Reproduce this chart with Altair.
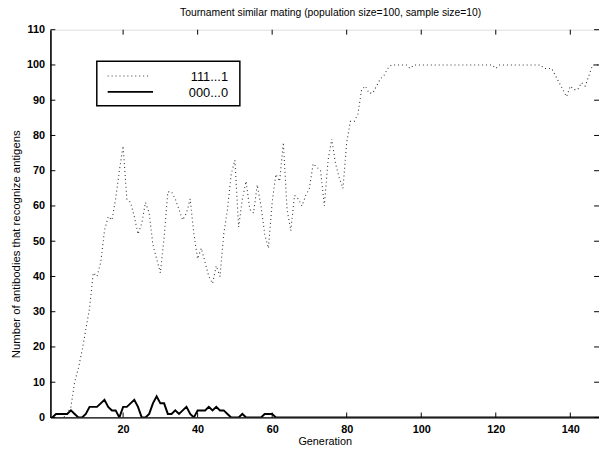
import altair as alt
import pandas as pd

# ---- data ----
generations = list(range(1, 149))
ones_series = [
    0, 0, 0, 0, 1, 3, 10, 14, 19, 25,
    31, 41, 40, 44, 53, 57, 56, 62, 70, 77,
    62, 61, 57, 52, 55, 61, 58, 49, 45, 41,
    51, 64, 64, 62, 59, 56, 58, 62, 52, 45,
    48, 44, 40, 38, 43, 40, 52, 59, 69, 73,
    54, 62, 67, 59, 58, 66, 60, 52, 48, 61,
    69, 67, 78, 59, 53, 63, 62, 60, 63, 65,
    72, 71, 70, 60, 73, 79, 72, 68, 65, 78,
    84, 84, 86, 93, 94, 92, 92, 94, 96, 97,
    99, 100, 100, 100, 100, 100, 99, 100, 100, 100,
    100, 100, 100, 100, 100, 100, 100, 100, 100, 100,
    100, 100, 100, 100, 100, 100, 100, 100, 100, 99,
    100, 100, 100, 100, 100, 100, 100, 100, 100, 100,
    100, 100, 99, 99, 99, 97, 95, 93, 91, 94,
    93, 93, 95, 94, 97, 100, 100, 100,
]
zeros_series = [
    0, 1, 1, 1, 1, 2, 1, 0, 0, 1,
    3, 3, 3, 4, 5, 3, 2, 2, 0, 3,
    3, 4, 5, 3, 0, 0, 1, 4, 6, 4,
    4, 1, 1, 2, 1, 2, 3, 1, 0, 2,
    2, 2, 3, 2, 3, 2, 2, 1, 0, 0,
    0, 1, 0, 0, 0, 0, 0, 1, 1, 1,
] + [0] * 88
series_names = ["111...1", "000...0"]
x_ticks = [20, 40, 60, 80, 100, 120, 140]
y_ticks = [0, 10, 20, 30, 40, 50, 60, 70, 80, 90, 100, 110]
title_text = "Tournament similar mating (population size=100, sample size=10)"
x_title = "Generation"
y_title = "Number of antibodies that recognize antigens"

W, H = 556, 393
FONT = "Liberation Sans"
DOT = [1, 3]

df_ones = pd.DataFrame({"gen": generations, "value": ones_series})
df_zeros = pd.DataFrame({"gen": generations, "value": zeros_series})
df_xt = pd.DataFrame({"gen": x_ticks})
df_yt = pd.DataFrame({"value": y_ticks})
df_one = pd.DataFrame({"k": [0]})

xscale = alt.Scale(domain=[0.5, 147.7], nice=False, zero=False)
yscale = alt.Scale(domain=[0, 110], nice=False)

x_axis = alt.Axis(values=x_ticks, tickSize=0, labelFontSize=11, labelFontWeight="bold",
                  labelFont=FONT, labelColor="black", labelPadding=6, labelOverlap=False,
                  domainColor="black", domainWidth=1.2, grid=False,
                  title=x_title, titleFont=FONT, titleFontSize=11, titleFontWeight="normal",
                  titleColor="black", titlePadding=1)
y_axis = alt.Axis(values=y_ticks, tickSize=0, labelFontSize=11, labelFontWeight="bold",
                  labelFont=FONT, labelColor="black", labelPadding=6, labelOverlap=False,
                  domainColor="black", domainWidth=1.6, grid=False,
                  title=y_title, titleFont=FONT, titleFontSize=11.5, titleFontWeight="normal",
                  titleColor="black", titlePadding=5, titleY=217)

X = lambda: alt.X("gen:Q", scale=xscale, axis=x_axis)
Y = lambda: alt.Y("value:Q", scale=yscale, axis=y_axis)

ones_line = alt.Chart(df_ones).mark_line(
    color="#333333", strokeWidth=1.1, strokeDash=DOT, clip=True
).encode(x=X(), y=Y())
zeros_line = alt.Chart(df_zeros).mark_line(
    color="black", strokeWidth=2, clip=True
).encode(x=X(), y=Y())

# inward tick marks (MATLAB style) on all four sides
xt_bottom = alt.Chart(df_xt).mark_rule(color="black", strokeWidth=1).encode(
    x=X(), y=alt.value(H), y2=alt.value(H - 5))
xt_top = alt.Chart(df_xt).mark_rule(color="black", strokeWidth=1).encode(
    x=X(), y=alt.value(0), y2=alt.value(5))
yt_left = alt.Chart(df_yt).mark_rule(color="black", strokeWidth=1).encode(
    y=Y(), x=alt.value(0), x2=alt.value(5))
yt_right = alt.Chart(df_yt).mark_rule(color="black", strokeWidth=1).encode(
    y=Y(), x=alt.value(W - 5), x2=alt.value(W))

# legend box
legend_box = alt.Chart(df_one).mark_rect(
    fill="white", stroke="black", strokeWidth=1.5
).encode(x=alt.value(47), x2=alt.value(192), y=alt.value(32), y2=alt.value(77))
leg_dot = alt.Chart(df_one).mark_rule(
    color="#333333", strokeWidth=1.1, strokeDash=DOT
).encode(x=alt.value(58), x2=alt.value(100), y=alt.value(47))
leg_solid = alt.Chart(df_one).mark_rule(color="black", strokeWidth=2).encode(
    x=alt.value(58), x2=alt.value(104), y=alt.value(63))
leg_text1 = alt.Chart(df_one).mark_text(
    align="right", baseline="middle", font=FONT, fontSize=13, color="black",
    text=series_names[0]
).encode(x=alt.value(180), y=alt.value(48))
leg_text2 = alt.Chart(df_one).mark_text(
    align="right", baseline="middle", font=FONT, fontSize=13, color="black",
    text=series_names[1]
).encode(x=alt.value(180), y=alt.value(64))

chart = alt.layer(
    ones_line, zeros_line, xt_bottom, xt_top, yt_left, yt_right,
    legend_box, leg_dot, leg_solid, leg_text1, leg_text2,
).properties(
    width=W, height=H,
    title=alt.TitleParams(title_text, font=FONT, fontSize=10.5, fontWeight="normal",
                          color="black", anchor="middle", offset=5, dx=6),
    autosize=alt.AutoSizeParams(type="none"),
    padding={"left": 43, "top": 19, "right": 0, "bottom": 31},
).configure_view(
    stroke="black", strokeWidth=1
).configure(background="white")

chart.save("out.html", embed_options={"renderer": "svg", "actions": False})
